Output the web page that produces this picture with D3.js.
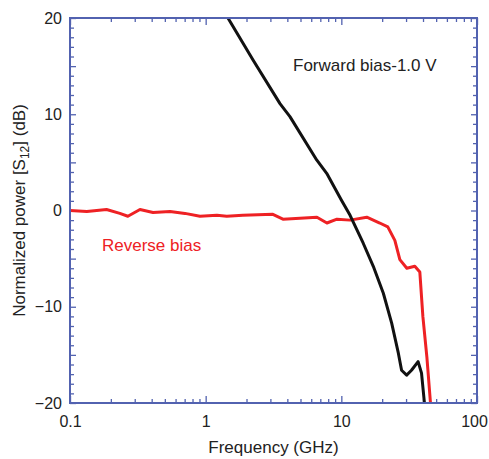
<!DOCTYPE html>
<html>
<head>
<meta charset="utf-8">
<script src="https://cdn.jsdelivr.net/npm/d3@7"></script>
<style>
  body { margin: 0; background: #fff; }
  text { font-family: "Liberation Sans", Arial, Helvetica, sans-serif; }
</style>
</head>
<body>
<svg id="chart" width="489" height="459"></svg>
<script>
// reverse bias trace (GHz, dB)
var revFreq = [0.1, 0.133, 0.186, 0.233, 0.267, 0.328, 0.409, 0.546, 0.704, 0.908, 1.21, 1.43, 1.88, 3.13, 3.71, 4.96, 6.61, 7.83, 9.29, 11.6, 15.4, 19.2, 22.0, 24.8, 27.0, 30.4, 34.8, 37.9, 39.9, 42.7, 45.7];
var revDb = [0.0, -0.1, 0.1, -0.3, -0.6, 0.1, -0.2, -0.1, -0.3, -0.6, -0.5, -0.6, -0.5, -0.4, -0.9, -0.8, -0.7, -1.3, -0.9, -1.0, -0.7, -1.3, -1.7, -3.1, -5.1, -6.0, -5.8, -6.4, -11.0, -15.2, -20.5];

// forward bias -1.0 V trace
var fwdFreq = [1.46, 2.24, 3.53, 4.18, 6.58, 7.80, 10.0, 11.6, 14.5, 17.2, 20.4, 23.5, 26.3, 27.8, 30.3, 32.9, 36.8, 39.0, 41.3];
var fwdDb = [20.0, 15.6, 11.1, 9.75, 5.25, 3.86, 1.1, -0.5, -3.4, -5.8, -8.6, -11.7, -14.8, -16.6, -17.1, -16.6, -15.7, -16.9, -20.5];

var xMajor = [0.1, 1, 10, 100];
var xLabels = ['0.1', '1', '10', '100'];
var yMajor = [-20, -10, 0, 10, 20];

var axisColor = '#5262b0';

var margin = {top: 18, right: 12, bottom: 56, left: 70};
var svgWidth = 489, svgHeight = 459;
var width = svgWidth - margin.left - margin.right;
var height = svgHeight - margin.top - margin.bottom;

var svg = d3.select('#chart');
var g = svg.append('g')
    .attr('transform', 'translate(' + margin.left + ',' + margin.top + ')');

var x = d3.scaleLog().domain([0.1, 100]).range([0, width]);
var y = d3.scaleLinear().domain([-20, 20]).range([height, 0]);

// minor tick values
var xMinor = [];
[0.1, 1, 10].forEach(function (d) {
    for (var k = 2; k <= 9; k++) xMinor.push(d * k);
});
var yMinor = d3.range(-20, 21, 1).filter(function (d) { return d % 5 !== 0; });
var yMid = d3.range(-20, 21, 5);

function styleAxis(sel) {
    sel.selectAll('line').attr('stroke', axisColor).attr('stroke-width', 1.3);
    sel.select('.domain').remove();
}

// bottom
g.append('g').attr('transform', 'translate(0,' + height + ')')
    .call(d3.axisBottom(x).tickValues(xMinor).tickSize(-4).tickFormat(''))
    .call(styleAxis);
var bx = g.append('g').attr('transform', 'translate(0,' + height + ')')
    .call(d3.axisBottom(x).tickValues(xMajor).tickSize(-7).tickPadding(13)
        .tickFormat(function (d, i) { return xLabels[i]; }))
    .call(styleAxis);
bx.selectAll('text').attr('font-size', 16).attr('fill', '#222')
    .attr('font-family', '"Liberation Sans", Arial, sans-serif')
    .attr('dx', function (d) { return d === 100 ? -3 : 0; });

// top
g.append('g')
    .call(d3.axisTop(x).tickValues(xMinor).tickSize(-4).tickFormat(''))
    .call(styleAxis);
g.append('g')
    .call(d3.axisTop(x).tickValues(xMajor).tickSize(-7).tickFormat(''))
    .call(styleAxis);

// left
g.append('g')
    .call(d3.axisLeft(y).tickValues(yMinor).tickSize(-4).tickFormat(''))
    .call(styleAxis);
g.append('g')
    .call(d3.axisLeft(y).tickValues(yMid).tickSize(-6).tickFormat(''))
    .call(styleAxis);
var ly = g.append('g')
    .call(d3.axisLeft(y).tickValues(yMajor).tickSize(0).tickPadding(8)
        .tickFormat(d3.format('d')))
    .call(styleAxis);
ly.selectAll('text').attr('font-size', 16).attr('fill', '#222')
    .attr('font-family', '"Liberation Sans", Arial, sans-serif');

// right
g.append('g').attr('transform', 'translate(' + width + ',0)')
    .call(d3.axisRight(y).tickValues(yMinor).tickSize(-4).tickFormat(''))
    .call(styleAxis);
g.append('g').attr('transform', 'translate(' + width + ',0)')
    .call(d3.axisRight(y).tickValues(yMid).tickSize(-6).tickFormat(''))
    .call(styleAxis);

// clip for curves
g.append('clipPath').attr('id', 'clip')
    .append('rect').attr('width', width).attr('height', height);

var line = d3.line()
    .x(function (d) { return x(d[0]); })
    .y(function (d) { return y(d[1]); });

g.append('path')
    .datum(d3.zip(revFreq, revDb))
    .attr('clip-path', 'url(#clip)')
    .attr('fill', 'none')
    .attr('stroke', '#ee2124')
    .attr('stroke-width', 3)
    .attr('stroke-linejoin', 'round')
    .attr('d', line);

g.append('path')
    .datum(d3.zip(fwdFreq, fwdDb))
    .attr('clip-path', 'url(#clip)')
    .attr('fill', 'none')
    .attr('stroke', '#111')
    .attr('stroke-width', 3)
    .attr('stroke-linejoin', 'round')
    .attr('d', line);

// frame
g.append('rect')
    .attr('width', width).attr('height', height)
    .attr('fill', 'none')
    .attr('stroke', axisColor)
    .attr('stroke-width', 2);

// annotations
svg.append('text')
    .attr('x', 293).attr('y', 71)
    .attr('font-size', 17).attr('fill', '#222')
    .text('Forward bias-1.0 V');

svg.append('text')
    .attr('x', 102).attr('y', 251)
    .attr('font-size', 17).attr('fill', '#ee2124')
    .text('Reverse bias');

svg.append('text')
    .attr('x', margin.left + width / 2).attr('y', 453)
    .attr('text-anchor', 'middle')
    .attr('font-size', 17).attr('fill', '#222')
    .text('Frequency (GHz)');

var yt = svg.append('text')
    .attr('transform', 'translate(25,' + (margin.top + height / 2) + ') rotate(-90)')
    .attr('text-anchor', 'middle')
    .attr('font-size', 17).attr('fill', '#222');
yt.append('tspan').text('Normalized power [S');
yt.append('tspan').attr('font-size', 12).attr('dy', 4).text('12');
yt.append('tspan').attr('dy', -4).text('] (dB)');
</script>
</body>
</html>
